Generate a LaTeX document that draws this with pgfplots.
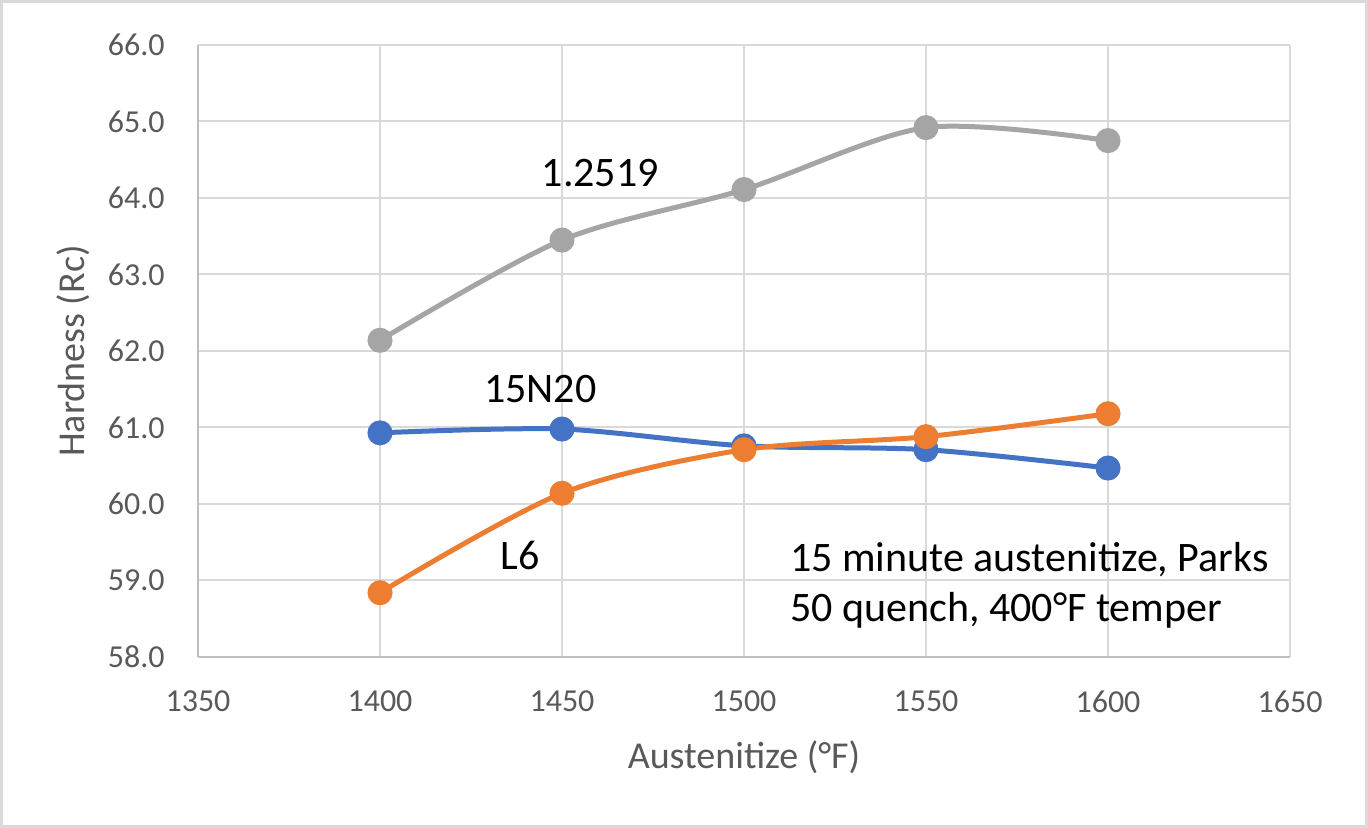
\documentclass[border=0pt]{standalone}
\usepackage{fontspec}
\setmainfont{Carlito}
\usepackage{pgfplots}
\pgfplotsset{compat=1.18}
\definecolor{cblue}{HTML}{4472C4}
\definecolor{corange}{HTML}{ED7D31}
\definecolor{cgray}{HTML}{A5A5A5}
\definecolor{gridc}{HTML}{D9D9D9}
\definecolor{axc}{HTML}{BFBFBF}
\definecolor{tickc}{HTML}{595959}
\begin{document}
\begin{tikzpicture}
\path[use as bounding box] (-99pt,-85.5pt) rectangle (585pt,328.5pt);
\draw[gridc, line width=1.2pt] (-98.2pt,-84.7pt) rectangle (584.2pt,327.7pt);
\begin{axis}[
  scale only axis,
  width=546pt, height=306pt,
  xmin=1350, xmax=1650, ymin=58, ymax=66,
  xtick={1350,1400,...,1650},
  ytick={58,59,...,66},
  axis x line*=bottom, axis y line*=left,
  axis line style={axc, line width=1.3pt},
  major tick length=0pt,
  grid=major,
  major grid style={gridc, line width=1pt},
  /pgf/number format/assume math mode=true,
  xticklabel style={/pgf/number format/1000 sep={}, font=\fontsize{16}{19}\selectfont, text=tickc, inner sep=0pt, anchor=north, yshift=-16.5pt},
  yticklabel style={/pgf/number format/.cd, fixed, fixed zerofill, precision=1, /tikz/.cd, font=\fontsize{16}{19}\selectfont, text=tickc, inner sep=0pt, anchor=east, xshift=-16.5pt},
  xlabel={Austenitize (°F)},
  ylabel={Hardness (Rc)},
  xlabel style={at={(axis description cs:0.5,0)}, anchor=base, yshift=-55.5pt, font=\fontsize{19}{22}\selectfont, text=tickc, inner sep=0pt},
  ylabel style={at={(axis description cs:0,0.5)}, anchor=base, yshift=56.5pt, font=\fontsize{19}{22}\selectfont, text=tickc, inner sep=0pt},
  every axis plot/.append style={line width=2.5pt, smooth, tension=0.5, mark=*, mark size=5pt, mark options={solid}},
  clip=false,
]
\addplot[cgray, mark options={fill=cgray, draw=cgray}] coordinates {
 (1400,62.14) (1450,63.45) (1500,64.11) (1550,64.92) (1600,64.75)};
\addplot[cblue, mark options={fill=cblue, draw=cblue}] coordinates {
 (1400,60.93) (1450,60.98) (1500,60.76) (1550,60.71) (1600,60.47)};
\addplot[corange, mark options={fill=corange, draw=corange}] coordinates {
 (1400,58.84) (1450,60.14) (1500,60.71) (1550,60.88) (1600,61.18)};
\node[font=\fontsize{21}{25}\selectfont, inner sep=0pt] at (axis cs:1460.5,64.33) {1.2519};
\node[font=\fontsize{21}{25}\selectfont, inner sep=0pt] at (axis cs:1444,61.50) {15N20};
\node[font=\fontsize{21}{25}\selectfont, inner sep=0pt] at (axis cs:1438.5,59.33) {L6};
\node[font=\fontsize{21}{25}\selectfont, inner sep=0pt, anchor=base west] at (axis cs:1512.6,59.115) {15 minute austenitize, Parks};
\node[font=\fontsize{21}{25}\selectfont, inner sep=0pt, anchor=base west] at (axis cs:1512.6,58.46) {50 quench, 400°F temper};
\end{axis}
\end{tikzpicture}
\end{document}
